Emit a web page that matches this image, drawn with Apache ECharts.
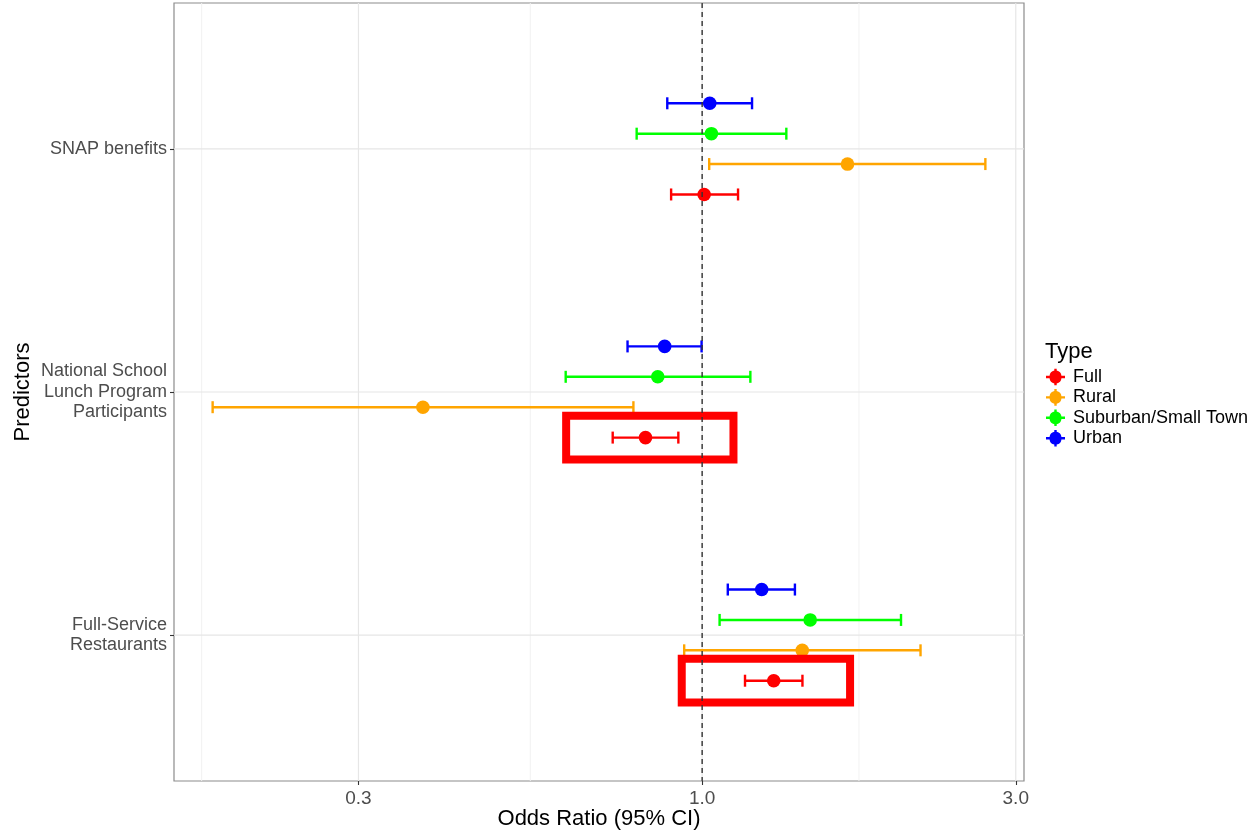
<!DOCTYPE html>
<html>
<head>
<meta charset="utf-8">
<title>Odds ratios by predictor and type</title>
<script src="https://cdn.jsdelivr.net/npm/echarts@6/dist/echarts.min.js"></script>
<style>
  html, body { margin: 0; padding: 0; background: #ffffff; }
  #chart { width: 1258px; height: 832px; }
</style>
</head>
<body>
<div id="chart"></div>
<script>
// Predictors, listed from the bottom row of the plot to the top row.
const predictors = ['Full-Service\nRestaurants', 'National School\nLunch Program\nParticipants', 'SNAP benefits'];

// Groups, in legend order (also the dodge order, bottom to top within a row).
const types = ['Full', 'Rural', 'Suburban/Small Town', 'Urban'];
const typeColors = ['#FF0000', '#FFA500', '#00FF00', '#0000FF'];

// Odds ratios and 95% confidence limits, one entry per predictor (same order as `predictors`).
const fullOR   = [1.285, 0.820, 1.007];
const fullLo   = [1.162, 0.731, 0.897];
const fullHi   = [1.421, 0.920, 1.134];

const ruralOR  = [1.420, 0.376, 1.664];
const ruralLo  = [0.939, 0.180, 1.025];
const ruralHi  = [2.149, 0.786, 2.697];

const suburbOR = [1.460, 0.856, 1.033];
const suburbLo = [1.063, 0.620, 0.795];
const suburbHi = [2.007, 1.184, 1.343];

const urbanOR  = [1.232, 0.877, 1.027];
const urbanLo  = [1.094, 0.770, 0.885];
const urbanHi  = [1.384, 0.998, 1.191];

// Odds-ratio axis breaks (those outside the axis range are not drawn).
const xBreaks = [0.1, 0.3, 1.0, 3.0];
const referenceOR = 1.0;

// Highlighted estimates: predictor index and odds-ratio span of the outline.
const highlightRow = [1, 0];
const highlightLo  = [0.621, 0.931];
const highlightHi  = [1.116, 1.679];

const estimates = [fullOR, ruralOR, suburbOR, urbanOR];
const lowers    = [fullLo, ruralLo, suburbLo, urbanLo];
const uppers    = [fullHi, ruralHi, suburbHi, urbanHi];

// Dodge layout: total width 0.5 of a row, split between the groups.
const dodgeWidth = 0.5;
const dodgeOffset = i => -dodgeWidth / 2 + dodgeWidth / types.length * (i + 0.5);

// Axis limits: 5% padding on the log scale, 0.6 of a row on the discrete axis.
const allLo = [].concat(...lowers), allHi = [].concat(...uppers);
const logMin = Math.log10(Math.min(...allLo));
const logMax = Math.log10(Math.max(...allHi));
const pad = (logMax - logMin) * 0.05;
const xMin = Math.pow(10, logMin - pad);
const xMax = Math.pow(10, logMax + pad);
const yMin = 1 - 0.6, yMax = predictors.length + 0.6;

// Breaks inside the range, and minor breaks halfway (on the log scale) between neighbours.
const xMajor = xBreaks.filter(v => v >= xMin && v <= xMax);
const xMinor = [];
for (let i = 0; i < xBreaks.length - 1; i++) {
  const m = Math.sqrt(xBreaks[i] * xBreaks[i + 1]);
  if (m >= xMin && m <= xMax) xMinor.push(m);
}
const yBreaks = predictors.map((p, i) => i + 1);

const chart = echarts.init(document.getElementById('chart'), null, { renderer: 'canvas' });

const textFont = '"Liberation Sans", Arial, Helvetica, sans-serif';

function renderErrorBar(params, api) {
  const y = api.value(3);
  const pt = api.coord([api.value(0), y]);
  const lo = api.coord([api.value(1), y]);
  const hi = api.coord([api.value(2), y]);
  const color = api.visual('color');
  const cap = 6;
  const lw = 2.4;
  return {
    type: 'group',
    children: [
      { type: 'line', shape: { x1: lo[0], y1: lo[1], x2: hi[0], y2: hi[1] }, style: { stroke: color, lineWidth: lw } },
      { type: 'line', shape: { x1: lo[0], y1: lo[1] - cap, x2: lo[0], y2: lo[1] + cap }, style: { stroke: color, lineWidth: lw } },
      { type: 'line', shape: { x1: hi[0], y1: hi[1] - cap, x2: hi[0], y2: hi[1] + cap }, style: { stroke: color, lineWidth: lw } },
      { type: 'circle', shape: { cx: pt[0], cy: pt[1], r: 6.8 }, style: { fill: color } }
    ]
  };
}

const errorSeries = types.map((name, ti) => ({
  name: name,
  type: 'custom',
  renderItem: renderErrorBar,
  itemStyle: { color: typeColors[ti] },
  encode: { x: [0, 1, 2], y: 3 },
  data: predictors.map((p, pi) => [estimates[ti][pi], lowers[ti][pi], uppers[ti][pi], pi + 1 + dodgeOffset(ti)]),
  z: 4,
  silent: true
}));

// Vertical grid lines (major and minor) across the plotting area.
const vGridSeries = {
  type: 'custom',
  silent: true,
  z: 1,
  encode: { x: 0, y: 1 },
  data: xMajor.map(v => [v, 2, 1]).concat(xMinor.map(v => [v, 2, 0])),
  renderItem: function (params, api) {
    const cs = params.coordSys;
    const x = api.coord([api.value(0), api.value(1)])[0];
    const major = api.value(2) === 1;
    return {
      type: 'line',
      shape: { x1: x, y1: cs.y, x2: x, y2: cs.y + cs.height },
      style: { stroke: major ? '#e6e6e6' : '#f2f2f2', lineWidth: major ? 1.2 : 1 }
    };
  }
};

// Horizontal grid lines at each predictor row.
const hGridSeries = {
  type: 'custom',
  silent: true,
  z: 1,
  encode: { x: 0, y: 1 },
  data: yBreaks.map(v => [1, v]),
  renderItem: function (params, api) {
    const cs = params.coordSys;
    const y = api.coord([api.value(0), api.value(1)])[1];
    return {
      type: 'line',
      shape: { x1: cs.x, y1: y, x2: cs.x + cs.width, y2: y },
      style: { stroke: '#e6e6e6', lineWidth: 1.2 }
    };
  }
};

// Dashed reference line at an odds ratio of 1.
const refSeries = {
  type: 'custom',
  silent: true,
  z: 6,
  encode: { x: 0, y: 1 },
  data: [[referenceOR, 2]],
  renderItem: function (params, api) {
    const cs = params.coordSys;
    const x = api.coord([api.value(0), api.value(1)])[0];
    return {
      type: 'line',
      shape: { x1: x, y1: cs.y, x2: x, y2: cs.y + cs.height },
      style: { stroke: '#333333', lineWidth: 1.4, lineDash: [5, 4] }
    };
  }
};

// Outlines around the highlighted estimates (drawn around the "Full" row).
const fullIndex = types.indexOf('Full');
const highlightSeries = {
  type: 'custom',
  silent: true,
  z: 5,
  encode: { x: [0, 1], y: 2 },
  data: highlightRow.map((r, i) => [highlightLo[i], highlightHi[i], r + 1 + dodgeOffset(fullIndex)]),
  renderItem: function (params, api) {
    const half = 0.09;
    const y = api.value(2);
    const a = api.coord([api.value(0), y + half]);
    const b = api.coord([api.value(1), y - half]);
    return {
      type: 'rect',
      shape: { x: a[0], y: a[1], width: b[0] - a[0], height: b[1] - a[1] },
      style: { fill: 'none', stroke: '#FF0000', lineWidth: 8 }
    };
  }
};

const legendIcon = 'path://M0,6 L3,6 A5,5 0 0 1 7,1.6 L7,0 L9,0 L9,1.6 A5,5 0 0 1 13,6 L16,6 L16,8 L13,8 A5,5 0 0 1 9,12.4 L9,14 L7,14 L7,12.4 A5,5 0 0 1 3,8 L0,8 Z';

const option = {
  animation: false,
  backgroundColor: '#ffffff',
  textStyle: { fontFamily: textFont },
  grid: {
    left: 174, top: 3, width: 850, height: 778,
    outerBoundsMode: 'none',
    containLabel: false,
    show: true, borderColor: '#8c8c8c', borderWidth: 1.2, backgroundColor: 'transparent'
  },
  xAxis: {
    type: 'log',
    logBase: 10,
    min: xMin,
    max: xMax,
    name: 'Odds Ratio (95% CI)',
    nameLocation: 'middle',
    nameGap: 27,
    nameMoveOverlap: false,
    nameTextStyle: { fontSize: 22, color: '#000000', fontFamily: textFont },
    axisLine: { show: false },
    axisTick: { show: true, customValues: xMajor, length: 4, lineStyle: { color: '#333333', width: 1.1 } },
    axisLabel: {
      customValues: xMajor,
      formatter: v => Number(v).toFixed(1),
      fontSize: 19, color: '#4d4d4d', margin: 8, fontFamily: textFont
    },
    splitLine: { show: false },
    minorSplitLine: { show: false }
  },
  yAxis: {
    type: 'value',
    min: yMin,
    max: yMax,
    name: 'Predictors',
    nameLocation: 'middle',
    nameGap: 140,
    nameMoveOverlap: false,
    nameRotate: 90,
    nameTextStyle: { fontSize: 22, color: '#000000', fontFamily: textFont },
    axisLine: { show: false },
    axisTick: { show: true, customValues: yBreaks, length: 4, lineStyle: { color: '#333333', width: 1.1 } },
    axisLabel: {
      customValues: yBreaks,
      formatter: v => predictors[Math.round(v) - 1] || '',
      fontSize: 18, color: '#4d4d4d', margin: 7, lineHeight: 20.5, align: 'right', fontFamily: textFont
    },
    splitLine: { show: false }
  },
  legend: {
    orient: 'vertical',
    left: 1041,
    top: 363,
    itemWidth: 19,
    itemHeight: 17,
    itemGap: 2.4,
    icon: legendIcon,
    data: types,
    selectedMode: false,
    textStyle: { fontSize: 18, color: '#000000', lineHeight: 16, fontFamily: textFont, padding: [0, 0, 0, 3] }
  },
  graphic: [{
    type: 'text',
    left: 1045,
    top: 341,
    style: { text: 'Type', fontSize: 22, fill: '#000000', fontFamily: textFont }
  }],
  series: [vGridSeries, hGridSeries].concat(errorSeries, [highlightSeries, refSeries])
};

chart.setOption(option);
</script>
</body>
</html>
